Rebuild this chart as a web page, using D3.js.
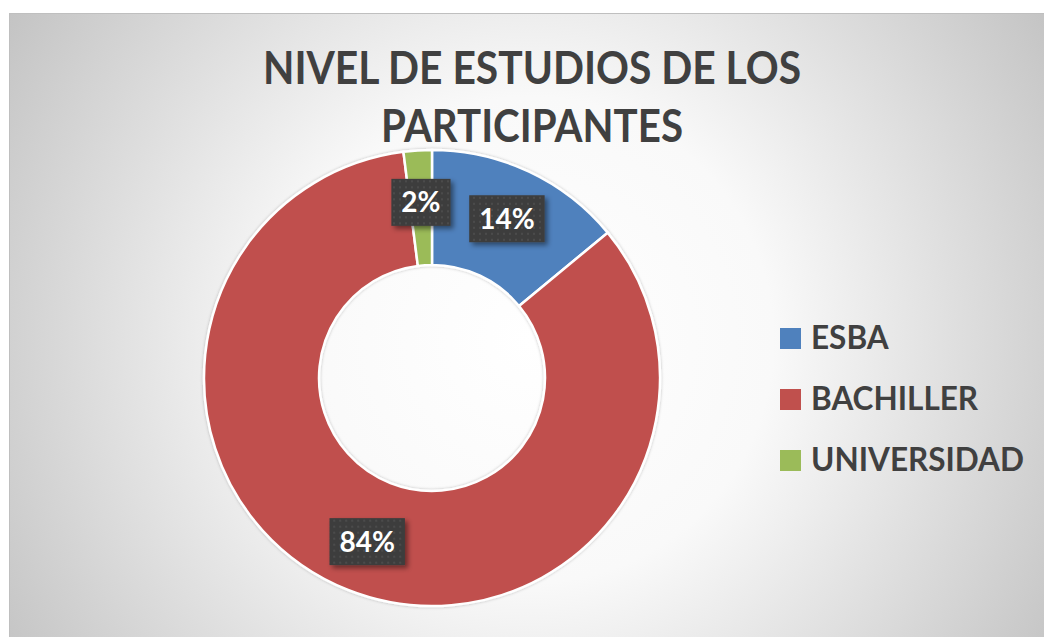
<!DOCTYPE html>
<html>
<head>
<meta charset="utf-8">
<script src="https://cdn.jsdelivr.net/npm/d3@7"></script>
<style>
  html, body { margin: 0; padding: 0; background: #fff; }
  svg { display: block; font-family: Lato, "Open Sans", sans-serif; }
</style>
</head>
<body>
<div id="chart"></div>
<script>
// data
const categories = ["ESBA", "BACHILLER", "UNIVERSIDAD"];
const shares = [14, 84, 2];
const colors = ["#4f81bd", "#c0504d", "#9bbb59"];
const titleLines = ["NIVEL DE ESTUDIOS DE LOS", "PARTICIPANTES"];
const titleWidths = [538, 302];

const w = 1044, h = 637;
const cx = 432, cy = 378, outerR = 228, innerR = 113;

let svg = d3.select("#chart")
  .append("svg")
  .attr("width", w)
  .attr("height", h)
  .attr("viewBox", [0, 0, w, h]);

let defs = svg.append("defs");

let bg = defs.append("radialGradient")
  .attr("id", "bg")
  .attr("gradientUnits", "userSpaceOnUse")
  .attr("cx", 530).attr("cy", 340).attr("r", 640);
bg.append("stop").attr("offset", 0).attr("stop-color", "#ffffff");
bg.append("stop").attr("offset", 0.38).attr("stop-color", "#f9f9f9");
bg.append("stop").attr("offset", 1).attr("stop-color", "#c0c0c0");

// dotted texture of the label boxes
let pat = defs.append("pattern")
  .attr("id", "dots")
  .attr("patternUnits", "userSpaceOnUse")
  .attr("width", 6).attr("height", 6);
pat.append("rect").attr("width", 6).attr("height", 6).attr("fill", "#3d3d3d");
pat.append("rect").attr("x", 2).attr("y", 2).attr("width", 2).attr("height", 2).attr("fill", "#4c4c4c");

let shadow = defs.append("filter")
  .attr("id", "shadow")
  .attr("x", "-30%").attr("y", "-30%")
  .attr("width", "160%").attr("height", "160%");
shadow.append("feDropShadow")
  .attr("dx", 3).attr("dy", 3)
  .attr("stdDeviation", 2.5)
  .attr("flood-color", "#000")
  .attr("flood-opacity", 0.45);

let ringShadow = defs.append("filter")
  .attr("id", "ringShadow")
  .attr("x", "-10%").attr("y", "-10%")
  .attr("width", "120%").attr("height", "120%");
ringShadow.append("feDropShadow")
  .attr("dx", 0).attr("dy", 0)
  .attr("stdDeviation", 1.5)
  .attr("flood-color", "#000")
  .attr("flood-opacity", 0.25);

// chart area
svg.append("rect")
  .attr("x", 9.5).attr("y", 13.5)
  .attr("width", w).attr("height", h)
  .attr("fill", "url(#bg)")
  .attr("stroke", "#bfbfbf")
  .attr("stroke-width", 1);

// title
svg.append("g")
  .selectAll("text")
  .data(titleLines)
  .join("text")
  .attr("x", 532)
  .attr("y", (d, i) => 84 + i * 58)
  .attr("text-anchor", "middle")
  .attr("font-size", 45)
  .attr("font-weight", "bold")
  .attr("fill", "#404040")
  .attr("textLength", (d, i) => titleWidths[i])
  .attr("lengthAdjust", "spacingAndGlyphs")
  .text(d => d);

// donut
let data = categories.map((c, i) => ({ name: c, value: shares[i], color: colors[i] }));
let pie = d3.pie().value(d => d.value).sort(null);
let arcs = pie(data);
let arc = d3.arc().innerRadius(innerR).outerRadius(outerR);
let labelArc = d3.arc().innerRadius(176).outerRadius(176);

let donut = svg.append("g").attr("transform", `translate(${cx},${cy})`);
donut.append("g")
  .attr("filter", "url(#ringShadow)")
  .selectAll("path")
  .data(arcs)
  .join("path")
  .attr("d", arc)
  .attr("fill", d => d.data.color)
  .attr("stroke", "#ffffff")
  .attr("stroke-width", 2.5)
  .attr("stroke-linejoin", "miter");

let labels = donut.append("g")
  .selectAll("g")
  .data(arcs)
  .join("g")
  .attr("transform", d => `translate(${labelArc.centroid(d)})`);

labels.append("text")
  .attr("text-anchor", "middle")
  .attr("dy", "0.36em")
  .attr("font-size", 28)
  .attr("font-weight", "bold")
  .attr("fill", "#ffffff")
  .text(d => d.data.value + "%");

labels.each(function () {
  let g = d3.select(this);
  let bb = g.select("text").node().getBBox();
  g.insert("rect", "text")
    .attr("x", bb.x - 10)
    .attr("y", -23.5)
    .attr("width", bb.width + 20)
    .attr("height", 47)
    .attr("fill", "url(#dots)")
    .attr("filter", "url(#shadow)");
});

// legend
let legend = svg.append("g")
  .attr("transform", "translate(780,349)")
  .selectAll("g")
  .data(data)
  .join("g")
  .attr("transform", (d, i) => `translate(0,${i * 61})`);

legend.append("rect")
  .attr("x", 0).attr("y", -21)
  .attr("width", 21).attr("height", 21)
  .attr("fill", d => d.color);

legend.append("text")
  .attr("x", 31)
  .attr("y", 0)
  .attr("font-size", 31.5)
  .attr("font-weight", "bold")
  .attr("fill", "#404040")
  .text(d => d.name);
</script>
</body>
</html>
